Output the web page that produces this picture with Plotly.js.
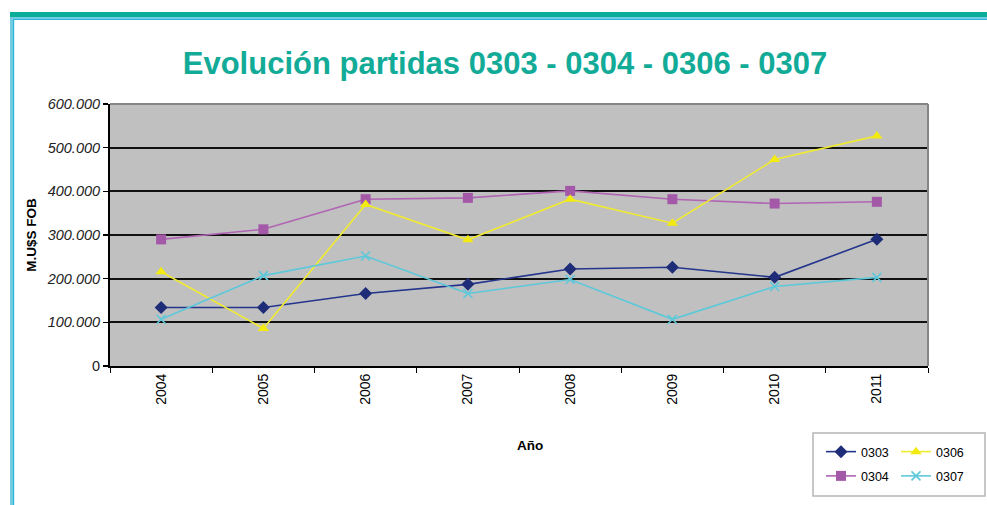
<!DOCTYPE html>
<html>
<head>
<meta charset="utf-8">
<script src="https://cdn.plot.ly/plotly-3.0.1.min.js"></script>
<style>html,body{margin:0;padding:0;background:#fff}#chart{width:987px;height:505px}</style>
</head>
<body>
<div id="chart"></div>
<script>
// ---- data ----
const years = ["2004","2005","2006","2007","2008","2009","2010","2011"];
const s0303 = [134, 134, 166, 187, 222, 226, 203, 290];
const s0304 = [290, 313, 382, 385, 401, 382, 372, 376];
const s0306 = [216, 86, 370, 289, 382, 327, 473, 527];
const s0307 = [107, 207, 252, 166, 198, 107, 182, 203];
const yTickVals = [0, 100, 200, 300, 400, 500, 600];
const yTickText = ["0", "<i>100.000</i>", "<i>200.000</i>", "<i>300.000</i>", "<i>400.000</i>", "<i>500.000</i>", "<i>600.000</i>"];

// ---- layout geometry ----
const W = 987, H = 505;
const M = {l: 110, r: 59, t: 104, b: 139};
const PW = W - M.l - M.r, PH = H - M.t - M.b;
const px = x => (x - M.l) / PW;
const py = y => (H - M.b - y) / PH;

const FONT = "Liberation Sans, Arial, sans-serif";

function tr(name, y, color, lineColor, symbol, size, group, legend) {
  return {
    type: 'scatter', mode: 'lines+markers', name: name, x: years, y: y,
    line: {color: lineColor, width: 1.6},
    marker: {symbol: symbol, size: size, color: color, line: {width: symbol === 'x-thin' ? 1.6 : 0, color: color}},
    legendgroup: group, legend: legend
  };
}

const data = [
  tr('0303', s0303, '#1f2d78', '#24358c', 'diamond', 10, 'a', 'legend'),
  tr('0304', s0304, '#a458a8', '#b064b4', 'square', 10, 'b', 'legend'),
  tr('0306', s0306, '#f2ea10', '#f0ea30', 'triangle-up', 10, 'c', 'legend2'),
  tr('0307', s0307, '#5cc8da', '#5cc8da', 'x-thin', 9, 'd', 'legend2')
];

const shapes = [
  // frame decoration
  {type:'rect', xref:'paper', yref:'paper', x0:px(10), x1:px(987), y0:py(12), y1:py(17), fillcolor:'#0aae98', line:{width:0}},
  {type:'rect', xref:'paper', yref:'paper', x0:px(10), x1:px(987), y0:py(17), y1:py(19), fillcolor:'#72cce0', line:{width:0}},
  {type:'rect', xref:'paper', yref:'paper', x0:px(13), x1:px(987), y0:py(19), y1:py(20), fillcolor:'#2cb4de', line:{width:0}},
  {type:'rect', xref:'paper', yref:'paper', x0:px(10), x1:px(13), y0:py(17), y1:py(505), fillcolor:'#72cce0', line:{width:0}},
  {type:'rect', xref:'paper', yref:'paper', x0:px(13), x1:px(14.2), y0:py(19), y1:py(505), fillcolor:'#2cb4de', line:{width:0}},
  // plot area top and right border
  {type:'line', xref:'paper', yref:'paper', x0:0, x1:1, y0:1, y1:1, line:{color:'#858585', width:2}},
  {type:'line', xref:'paper', yref:'paper', x0:1, x1:1, y0:0, y1:1, line:{color:'#858585', width:2}},
  // legend box
  {type:'rect', xref:'paper', yref:'paper', x0:px(813), x1:px(985), y0:py(433), y1:py(496), fillcolor:'rgba(0,0,0,0)', line:{color:'#b5b5b5', width:1.5}}
];

const legendCommon = {
  orientation:'v', xanchor:'left', yanchor:'top', bgcolor:'rgba(0,0,0,0)', borderwidth:0,
  font:{family: FONT, size:12.5, color:'#000'}, tracegroupgap: 5, traceorder:'grouped',
  yref:'paper'
};

const layout = {
  width: W, height: H,
  margin: M,
  paper_bgcolor: '#fff', plot_bgcolor: '#c0c0c0',
  font: {family: FONT, color: '#000'},
  showlegend: true,
  title: {
    text: 'Evolución partidas 0303 - 0304 - 0306 - 0307',
    font: {family: FONT, size: 31, color: '#12ab98', weight: 'bold'},
    x: 505 / W, xref: 'container', xanchor: 'center',
    y: 1 - 63 / H, yref: 'container', yanchor: 'middle'
  },
  xaxis: {
    type: 'category', range: [-0.5, 7.5],
    showgrid: false, zeroline: false,
    showline: true, linecolor: '#000', linewidth: 2,
    ticks: 'outside', tickson: 'boundaries', ticklen: 5, tickcolor: '#000', tickwidth: 1,
    tickangle: -90, tickfont: {family: FONT, size: 14, color: '#000'},
    fixedrange: true
  },
  yaxis: {
    range: [0, 600], tickvals: yTickVals, ticktext: yTickText,
    showgrid: true, gridcolor: '#111', gridwidth: 2, zeroline: false,
    showline: true, linecolor: '#000', linewidth: 2,
    ticks: 'outside', ticklen: 5, tickcolor: '#000', tickwidth: 1.5,
    tickfont: {family: FONT, size: 14.5, color: '#222'},
    title: {text: '<b>M.U$S FOB</b>', font: {family: FONT, size: 13.5, color: '#000'}, standoff: 7},
    fixedrange: true
  },
  annotations: [
    {text: '<b>Año</b>', xref: 'paper', yref: 'paper', x: px(530), y: py(445),
     xanchor: 'center', yanchor: 'middle', showarrow: false,
     font: {family: FONT, size: 13.5, color: '#000'}}
  ],
  legend: Object.assign({}, legendCommon, {x: px(821), y: py(437)}),
  legend2: Object.assign({}, legendCommon, {x: px(896), y: py(437)}),
  shapes: shapes
};

Plotly.newPlot('chart', data, layout, {displayModeBar: false, staticPlot: true});
</script>
</body>
</html>
